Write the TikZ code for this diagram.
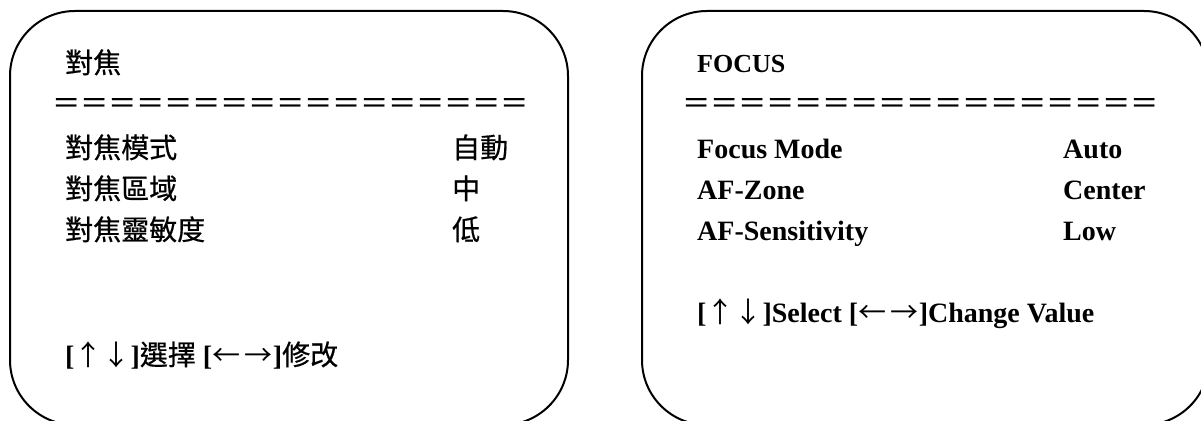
\documentclass[tikz,border=0pt]{standalone}
\usepackage{fontspec}
\setmainfont{Liberation Serif}
\newfontfamily\cjk[FakeBold=0.6]{Noto Sans CJK TC}
\newfontfamily\cjkthin{Noto Sans CJK TC}
\newcommand\arw[1]{{\cjkthin\mdseries #1}}
\begin{document}
\begin{tikzpicture}[x=1pt, y=-1pt,
    panel/.style={draw, line width=2pt, rounded corners=65pt},
    zh/.style={anchor=base west, inner sep=0pt, font=\cjk\fontsize{28}{32}\selectfont},
    en/.style={anchor=base west, inner sep=0pt, font=\bfseries\fontsize{28}{32}\selectfont}]
  \useasboundingbox (0,0) rectangle (1201,420);
  % left panel
  \draw[panel] (10,11) rectangle (568,425);
  \node[zh] (zhtitle) at (65,73) {對焦};
  \node[zh] (zhrule) at (52,113) {＝＝＝＝＝＝＝＝＝＝＝＝＝＝＝＝＝};
  \node[zh] (zhmode) at (65,158) {對焦模式};
  \node[zh] (zhmodeval) at (452,158) {自動};
  \node[zh] (zhzone) at (65,199) {對焦區域};
  \node[zh] (zhzoneval) at (452,199) {中};
  \node[zh] (zhsens) at (65,240) {對焦靈敏度};
  \node[zh] (zhsensval) at (452,240) {低};
  \node[en] (zhhelp) at (65,365) {[\arw{↑↓}]{\cjk\mdseries 選擇} [\arw{←\,→}]{\cjk\mdseries 修改}};
  % right panel
  \draw[panel] (642,11) rectangle (1209,425);
  \node[en, font=\bfseries\fontsize{26}{30}\selectfont] (entitle) at (697,72) {FOCUS};
  \node[zh] (enrule) at (682,113) {＝＝＝＝＝＝＝＝＝＝＝＝＝＝＝＝＝};
  \node[en] (enmode) at (697,158) {Focus Mode};
  \node[en] (enmodeval) at (1063,158) {Auto};
  \node[en] (enzone) at (697,199) {AF-Zone};
  \node[en] (enzoneval) at (1063,199) {Center};
  \node[en] (ensens) at (697,240) {AF-Sensitivity};
  \node[en] (ensensval) at (1063,240) {Low};
  \node[en] (enhelp) at (697,322) {[\arw{↑↓}]Select [\arw{←\,→}]Change Value};
\end{tikzpicture}
\end{document}
